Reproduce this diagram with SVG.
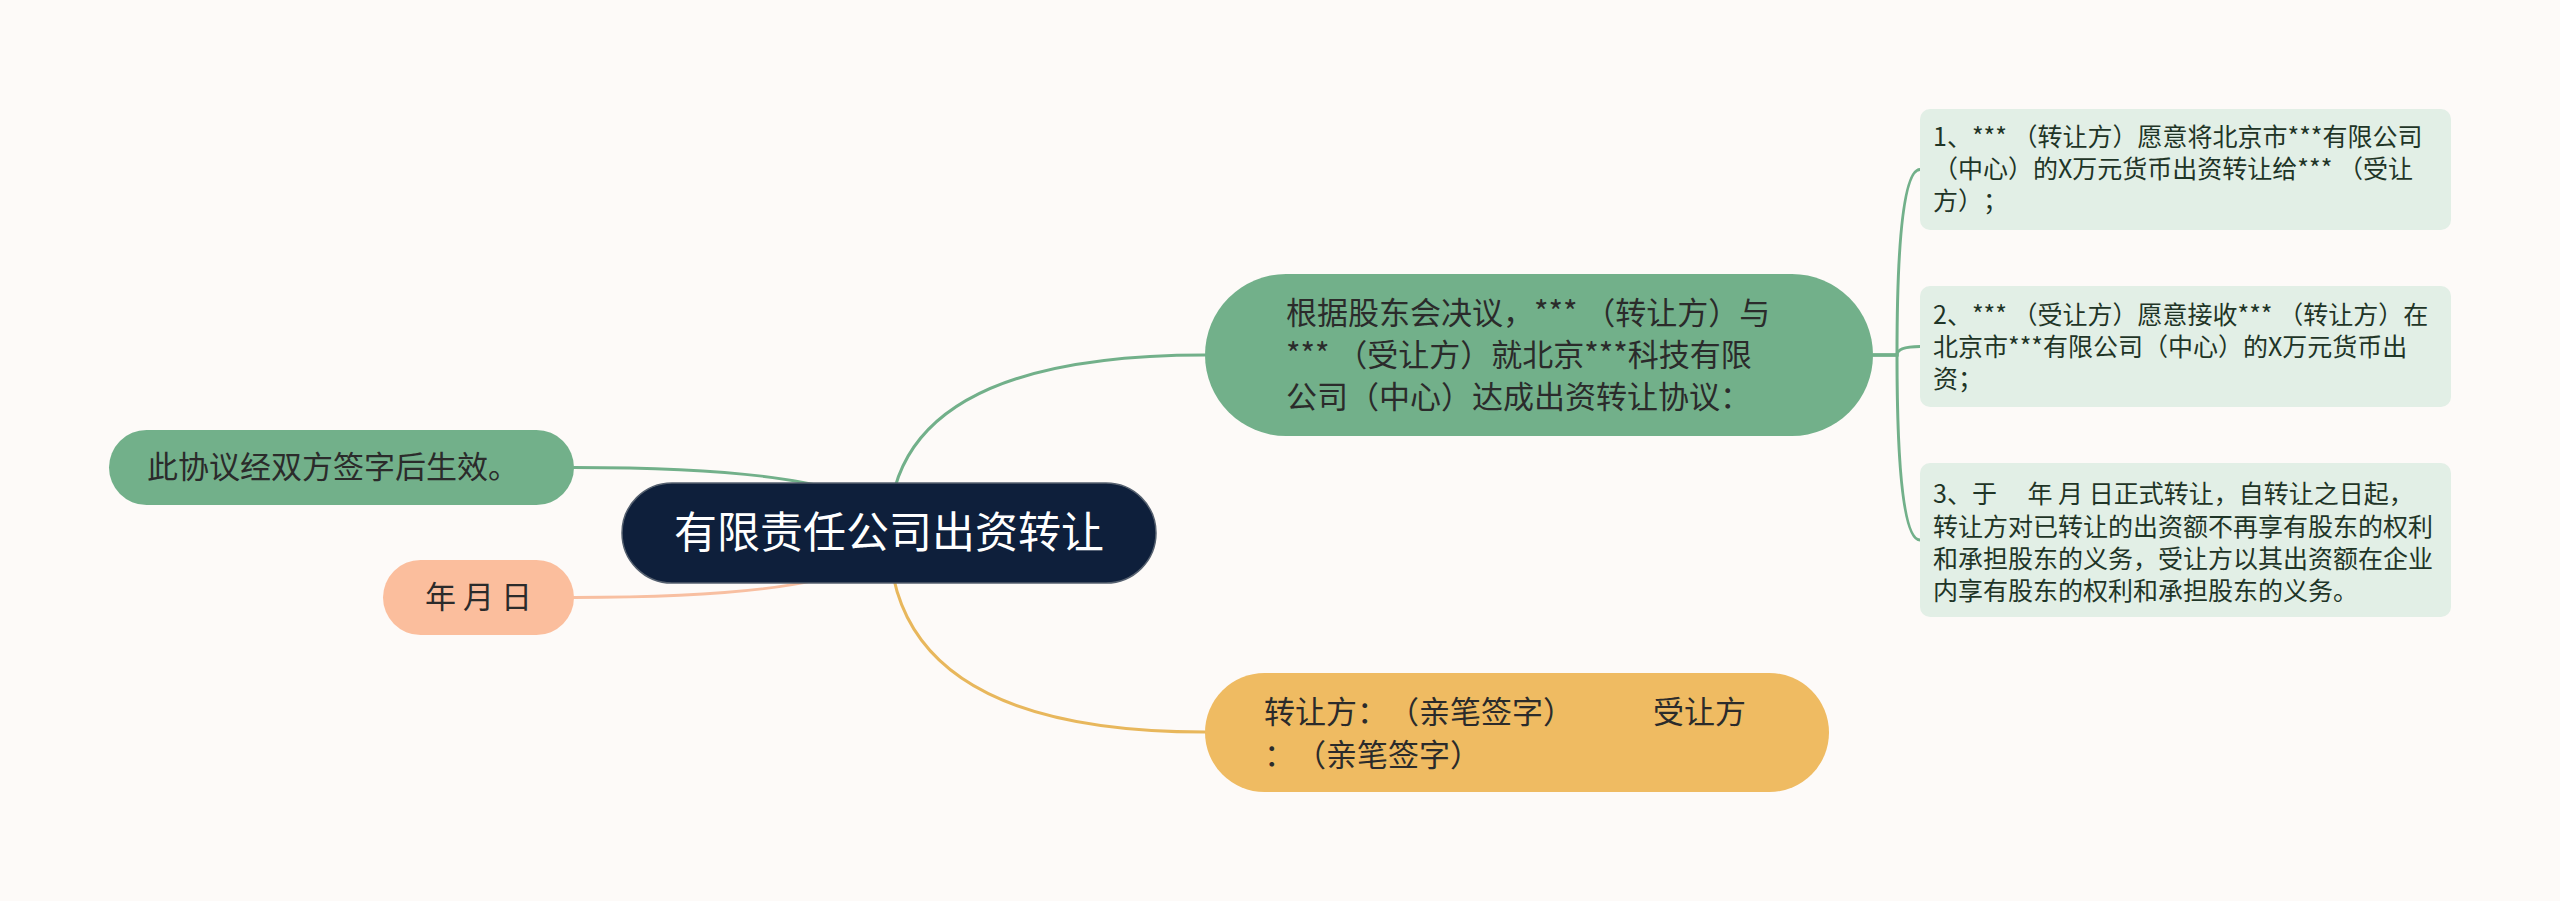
<svg xmlns="http://www.w3.org/2000/svg" width="2560" height="901" viewBox="0 0 2560 901">
<style>
  text { font-family: "Noto Sans CJK SC", "Noto Sans", sans-serif; text-spacing-trim: space-all; font-feature-settings: "chws" 0, "halt" 0; }
  .conn { fill: none; stroke-width: 3; stroke-linecap: round; }
  .g { stroke: #72b08a; }
  .p { stroke: #f8bfa1; }
  .y { stroke: #e8b75c; }
  .t31 { font-size: 31px; fill: #2b2b2b; }
  .t25 { font-size: 25px; fill: #1f3527; }
  .box { fill: #e2efe6; }
</style>
<rect x="0" y="0" width="2560" height="901" fill="#fdfaf8"/>
<g id="connectors">
  <path class="conn g" d="M889,533 Q889,355 1205,355"/>
  <path class="conn y" d="M889,533 Q889,732 1205,732"/>
  <path class="conn g" d="M889,533 Q889,467.5 574,467.5"/>
  <path class="conn p" d="M889,533 Q889,597.5 574,597.5"/>
  <path class="conn g" d="M1873,355 L1897,355 Q1897,169.5 1920,169.5"/>
  <path class="conn g" d="M1873,355 L1897,355 Q1897,346.5 1920,346.5"/>
  <path class="conn g" d="M1873,355 L1897,355 Q1897,540 1920,540"/>
</g>
<g id="root">
  <rect x="622" y="483" width="534" height="100" rx="50" fill="#0e1f3b" stroke="#55606f" stroke-width="1.5"/>
  <text x="889" y="548" text-anchor="middle" font-size="43" fill="#ffffff">有限责任公司出资转让</text>
</g>
<g id="n-agreement">
  <rect x="1205" y="274" width="668" height="162" rx="81" fill="#72b08a"/>
  <text class="t31"><tspan x="1286" y="324">根据股东会决议，*** （转让方）与</tspan><tspan x="1286" y="366">*** （受让方）就北京***科技有限</tspan><tspan x="1286" y="408">公司（中心）达成出资转让协议：</tspan></text>
</g>
<g id="n-sign">
  <rect x="1205" y="673" width="624" height="119" rx="59.5" fill="#efbb62"/>
  <text class="t31"><tspan x="1264" y="723">转让方：（亲笔签字）</tspan><tspan x="1653" y="723">受让方</tspan><tspan x="1264" y="766">：（亲笔签字）</tspan></text>
</g>
<g id="n-effect">
  <rect x="109" y="430" width="465" height="75" rx="37.5" fill="#72b08a"/>
  <text class="t31" x="147" y="478">此协议经双方签字后生效。</text>
</g>
<g id="n-date">
  <rect x="383" y="560" width="191" height="75" rx="37.5" fill="#fbbe9d"/>
  <text class="t31" x="478.5" y="608" text-anchor="middle">年 月 日</text>
</g>
<g id="n-item1">
  <rect class="box" x="1920" y="109" width="531" height="121" rx="10"/>
  <text class="t25"><tspan x="1933" y="146">1、*** （转让方）愿意将北京市***有限公司</tspan><tspan x="1933" y="178">（中心）的X万元货币出资转让给*** （受让</tspan><tspan x="1933" y="210">方）；</tspan></text>
</g>
<g id="n-item2">
  <rect class="box" x="1920" y="286" width="531" height="121" rx="10"/>
  <text class="t25"><tspan x="1933" y="324">2、*** （受让方）愿意接收*** （转让方）在</tspan><tspan x="1933" y="356">北京市***有限公司（中心）的X万元货币出</tspan><tspan x="1933" y="388">资；</tspan></text>
</g>
<g id="n-item3">
  <rect class="box" x="1920" y="463" width="531" height="154" rx="10"/>
  <text class="t25"><tspan x="1933" y="503">3、于　 年 月 日正式转让，自转让之日起，</tspan><tspan x="1933" y="536">转让方对已转让的出资额不再享有股东的权利</tspan><tspan x="1933" y="568">和承担股东的义务，受让方以其出资额在企业</tspan><tspan x="1933" y="600">内享有股东的权利和承担股东的义务。</tspan></text>
</g>
</svg>
